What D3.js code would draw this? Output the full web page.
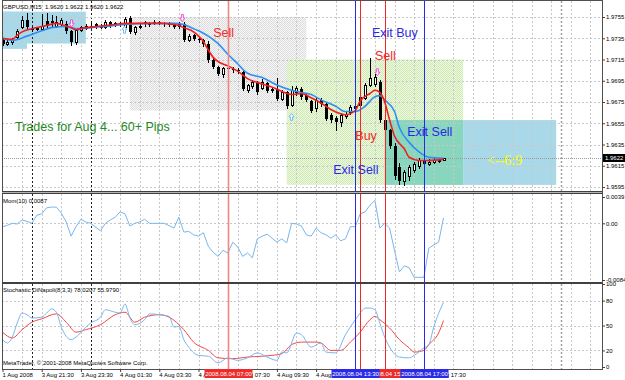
<!DOCTYPE html>
<html>
<head>
<meta charset="utf-8">
<script src="https://cdnjs.cloudflare.com/ajax/libs/d3/7.8.5/d3.min.js"></script>
<style>
body { margin: 0; background: #fff; }
text { font-family: "Liberation Sans", Arial, sans-serif; }
</style>
</head>
<body>
<script>
// ---- data (GBPUSD M15, 1 Aug 22:30 .. 4 Aug 18:00) ----
var open = [
  1.9733,1.9730,1.9731,1.9736,1.9746,1.9752,1.9745,1.9744,1.9744,1.9751,
  1.9751,1.9747,1.9748,1.9748,1.9742,1.9731,1.9743,1.9745,1.9746,1.9748,
  1.9746,1.9746,1.9750,1.9748,1.9749,1.9746,1.9754,1.9741,1.9746,1.9750,
  1.9748,1.9749,1.9750,1.9749,1.9748,1.9748,1.9748,1.9748,1.9733,1.9738,
  1.9734,1.9733,1.9730,1.9715,1.9708,1.9701,1.9707,1.9706,1.9705,1.9703,
  1.9686,1.9690,1.9694,1.9688,1.9693,1.9686,1.9687,1.9678,1.9684,1.9672,
  1.9684,1.9687,1.9682,1.9676,1.9669,1.9677,1.9673,1.9663,1.9660,1.9656,
  1.9662,1.9666,1.9669,1.9672,1.9679,1.9691,1.9692,1.9694,1.9658,1.9649,
  1.9634,1.9614,1.9601,1.9605,1.9611,1.9615,1.9620,1.9617,1.9619,1.9620,
  1.9620];
var high = [
  1.9735,1.9733,1.9735,1.9744,1.9756,1.9759,1.9746,1.9746,1.9758,1.9759,
  1.9757,1.9756,1.9754,1.9751,1.9743,1.9744,1.9747,1.9748,1.9749,1.9749,
  1.9748,1.9752,1.9751,1.9750,1.9750,1.9755,1.9756,1.9747,1.9748,1.9751,
  1.9750,1.9752,1.9751,1.9750,1.9750,1.9749,1.9750,1.9750,1.9739,1.9739,
  1.9736,1.9734,1.9732,1.9716,1.9709,1.9708,1.9709,1.9708,1.9707,1.9704,
  1.9692,1.9696,1.9695,1.9697,1.9694,1.9689,1.9698,1.9686,1.9685,1.9690,
  1.9690,1.9689,1.9683,1.9677,1.9679,1.9679,1.9674,1.9665,1.9662,1.9665,
  1.9666,1.9672,1.9673,1.9682,1.9693,1.9716,1.9701,1.9696,1.9661,1.9650,
  1.9636,1.9618,1.9611,1.9616,1.9619,1.9622,1.9622,1.9621,1.9622,1.9622,
  1.9622];
var low = [
  1.9729,1.9729,1.9730,1.9735,1.9745,1.9745,1.9742,1.9743,1.9743,1.9746,
  1.9747,1.9746,1.9747,1.9740,1.9729,1.9730,1.9742,1.9744,1.9745,1.9745,
  1.9745,1.9745,1.9746,1.9747,1.9747,1.9745,1.9740,1.9739,1.9745,1.9747,
  1.9747,1.9748,1.9748,1.9747,1.9747,1.9745,1.9745,1.9732,1.9732,1.9733,
  1.9731,1.9728,1.9713,1.9707,1.9700,1.9699,1.9704,1.9703,1.9702,1.9686,
  1.9684,1.9688,1.9683,1.9687,1.9684,1.9684,1.9677,1.9677,1.9669,1.9671,
  1.9682,1.9678,1.9676,1.9666,1.9667,1.9671,1.9658,1.9656,1.9649,1.9652,
  1.9660,1.9664,1.9667,1.9670,1.9678,1.9690,1.9690,1.9656,1.9648,1.9632,
  1.9603,1.9598,1.9597,1.9602,1.9609,1.9613,1.9615,1.9616,1.9618,1.9619,
  1.9620];
var close = [
  1.9730,1.9731,1.9733,1.9742,1.9752,1.9746,1.9743,1.9745,1.9747,1.9747,
  1.9749,1.9750,1.9752,1.9742,1.9731,1.9743,1.9746,1.9747,1.9747,1.9746,
  1.9747,1.9750,1.9747,1.9749,1.9748,1.9753,1.9741,1.9746,1.9747,1.9748,
  1.9749,1.9750,1.9749,1.9748,1.9749,1.9746,1.9746,1.9733,1.9737,1.9734,
  1.9733,1.9730,1.9715,1.9708,1.9701,1.9707,1.9706,1.9705,1.9704,1.9687,
  1.9691,1.9694,1.9684,1.9694,1.9685,1.9687,1.9678,1.9684,1.9671,1.9686,
  1.9688,1.9680,1.9677,1.9667,1.9677,1.9673,1.9659,1.9658,1.9656,1.9663,
  1.9664,1.9670,1.9671,1.9680,1.9691,1.9698,1.9699,1.9658,1.9649,1.9634,
  1.9605,1.9601,1.9609,1.9614,1.9617,1.9620,1.9617,1.9619,1.9620,1.9620,
  1.9622];

// moving averages [bar, price]
var maFast = [[0,1.9735],[2,1.9734],[3,1.9738],[4,1.9741],[6,1.9744],[8,1.9746],[9,1.9747],
  [11,1.9749],[12,1.9748],[14,1.9745],[15,1.9743],[17,1.9745],[19,1.9746],[21,1.9747],
  [23,1.9748],[25,1.9749],[28,1.9749],[32,1.9749],[35,1.9748],[36,1.9747],[37,1.9745],
  [39,1.9741],[40,1.9737],[41,1.9732],[42,1.9724],[43,1.9717],[44,1.9713],[46,1.9709],
  [48,1.9704],[50,1.9697],[53,1.9692],[55,1.9689],[57,1.9685],[59,1.9682],[61,1.9683],
  [63,1.9679],[65,1.9674],[67,1.9668],[69,1.9664],[70,1.9663],[72,1.9667],[73,1.9676],
  [75,1.9683],[76,1.9686],[77,1.9684],[78,1.9675],[79,1.9658],[80,1.9643],[82,1.9631],
  [83,1.9623],[85,1.9620],[87,1.9620],[90,1.9621]];
var maSlow = [[0,1.9735],[2,1.9733],[5,1.9737],[8,1.9742],[10,1.9745],[13,1.9746],[15,1.9744],
  [18,1.9745],[21,1.9746],[25,1.9748],[30,1.9749],[35,1.9749],[37,1.9748],[38,1.9746],
  [40,1.9742],[42,1.9737],[44,1.9730],[46,1.9720],[48,1.9711],[50,1.9702],[53,1.9698],
  [56,1.9691],[59,1.9686],[61,1.9684],[63,1.9682],[65,1.9677],[68,1.9671],[70,1.9666],
  [72,1.9666],[74,1.9671],[76,1.9680],[77,1.9681],[78,1.9677],[80,1.9666],[81,1.9651],
  [83,1.9637],[85,1.9628],[87,1.9623],[90,1.9622]];

// Mom(10) [bar, value]
var momentum = [[0,-0.0005],[1,-0.0003],[2,0.0000],[3,-0.0001],[4,0.0005],[5,0.0003],[6,0.0000],
  [7,0.0012],[8,0.0014],[9,0.0023],[10,0.0024],[11,0.0024],[12,0.0015],[13,0.0002],[14,-0.0019],
  [15,-0.0005],[16,0.0006],[17,0.0002],[18,0.0000],[20,-0.0011],[21,0.0000],[22,0.0005],
  [23,0.0009],[24,0.0017],[25,0.0014],[26,-0.0004],[27,0.0000],[28,0.0002],[29,0.0006],
  [30,0.0000],[32,0.0000],[33,0.0000],[35,-0.0007],[36,0.0009],[37,-0.0013],[38,-0.0012],
  [39,-0.0017],[40,-0.0019],[41,-0.0014],[42,-0.0034],[43,-0.0043],[44,-0.0049],[45,-0.0040],
  [46,-0.0044],[47,-0.0028],[48,-0.0035],[49,-0.0049],[50,-0.0044],[51,-0.0051],[52,-0.0023],
  [53,-0.0019],[54,-0.0016],[56,-0.0028],[57,-0.0023],[58,-0.0029],[59,0.0000],[60,-0.0001],
  [61,-0.0004],[62,-0.0017],[63,-0.0019],[64,-0.0007],[65,-0.0014],[66,-0.0017],[67,-0.0022],
  [68,-0.0017],[69,-0.0026],[70,-0.0023],[71,-0.0005],[72,-0.0005],[73,0.0014],[74,0.0017],
  [75,0.0027],[76,0.0034],[77,-0.0007],[78,0.0000],[79,-0.0007],[80,-0.0040],[81,-0.0072],
  [82,-0.0063],[83,-0.0066],[84,-0.0080],[85,-0.0080],[86,-0.0080],[87,-0.0037],[88,-0.0032],
  [89,-0.0028],[90,0.0008]];

// Stochastic DiNapoli(8,3,3) [bar, value]
var stochMain = [[0,33],[1,29],[2,36],[3,53],[4,65],[5,63],[6,59],[8,60],[9,65],[10,70],[11,66],
  [12,48],[14,33],[15,36],[17,48],[18,53],[20,60],[21,69],[23,66],[24,65],[25,76],[26,59],
  [27,51],[29,57],[30,64],[32,63],[34,61],[35,48],[36,49],[37,33],[38,24],[40,14],[42,13],
  [44,5],[46,11],[48,8],[50,11],[52,17],[54,12],[56,8],[57,18],[58,17],[60,41],[61,39],
  [63,24],[65,29],[66,18],[68,17],[70,39],[72,57],[73,65],[74,71],[75,71],[76,69],[77,53],
  [78,36],[79,24],[81,12],[83,11],[84,14],[86,23],[87,27],[88,48],[90,78]];
var stochSignal = [[0,42],[2,35],[4,45],[6,54],[8,58],[11,64],[13,54],[15,42],[17,45],[20,51],
  [23,63],[25,66],[27,54],[29,60],[32,63],[34,60],[37,45],[39,30],[42,20],[44,11],[47,10],
  [50,12],[53,13],[55,14],[57,16],[59,27],[61,30],[64,30],[65,29],[67,20],[69,20],[71,30],
  [73,42],[75,57],[76,61],[77,57],[79,47],[81,33],[83,23],[84,18],[86,20],[87,27],[89,41],[90,56]];

// axes
var priceTicks = [1.9755,1.9735,1.9715,1.9695,1.9675,1.9655,1.9635,1.9615,1.9595];
var momTicks = [0.0039, 0, -0.0084];
var momTickLabels = ["0.0039", "0.00", "-0.0084"];
var stochTicks = [100, 80, 50, 20, 0];
var timeTickBars = [0, 8, 16, 24, 32, 40, 48, 56, 64, 72, 80, 88];
var timeTickLabels = ["1 Aug 2008","3 Aug 21:30","3 Aug 23:30","4 Aug 01:30","4 Aug 03:30","4 Aug 05:30",
  "4 Aug 07:30","4 Aug 09:30","4 Aug 11:30","4 Aug 13:30","4 Aug 15:30","4 Aug 17:30"];
var daySeparators = [6, 18, 114];

// chart objects
var vlineBars = [46, 73, 78, 72, 86];
var vlineLabels = ["2008.08.04 07:00","2008.08.04 13:45","2008.08.04 15:00","2008.08.04 13:30","2008.08.04 17:00"];
var vlineKinds = ["red","red","red","blue","blue"];

var boxFrom  = [0, 0, 26, 58, 78, 94];
var boxTo    = [17, 5, 62, 94, 94, 113];
var boxTop   = [1.9760, 1.9760, 1.9755, 1.9715, 1.9658, 1.9658];
var boxBot   = [1.9730, 1.9725, 1.9667, 1.9597, 1.9597, 1.9597];
var boxKinds = ["blue","blue","gray","green","teal","blue"];

var noteTexts  = ["Trades for Aug 4... 60+ Pips","Sell","Exit Buy","Sell","Buy","Exit Sell","Exit Sell","<--6:9"];
var noteBars   = [2.55, 43, 75.4, 76, 72, 67.5, 82.6, 98.9];
var notePrices = [1.9648, 1.9736, 1.9736, 1.9715, 1.9639, 1.9607, 1.9643, 1.9616];
var noteKinds  = ["green","red","blue","red","red","blue","blue","yellow"];

var sellArrowBars = [14.1, 36.7, 76.5];
var sellArrowPrices = [1.9749, 1.9754, 1.9703];
var buyArrowBars = [24.9, 59];
var buyArrowPrices = [1.9743, 1.9661];

// ---- layout ----
var svg_width = 625, svg_height = 380;
var left = 2, right = 602;
var panes = {
  main:  {top: 1,   bottom: 191},
  mom:   {top: 194, bottom: 282},
  stoch: {top: 284, bottom: 369}
};
var colors = {
  red: "#f02828", blue: "#2828e6", green: "#1f8a1f", yellow: "#ffff00",
  boxBlue: "#a9d8e8", boxTeal: "#88d6bd"
};

var svg = d3.select('body').append('svg')
            .attr('width', svg_width)
            .attr('height', svg_height);

var x  = d3.scaleLinear().domain([0, 90]).range([2.5, 443.5]);
var yP = d3.scaleLinear().domain([1.9595, 1.9755]).range([187, 17]);
var yM = d3.scaleLinear().domain([-0.0084, 0.0039]).range([280, 197]);
var yS = d3.scaleLinear().domain([0, 100]).range([367, 284]);

var defs = svg.append("defs");
Object.keys(panes).forEach(function(k) {
  defs.append("clipPath").attr("id", "clip-" + k)
    .append("rect").attr("x", left).attr("y", panes[k].top)
    .attr("width", right - left).attr("height", panes[k].bottom - panes[k].top);
});
//stipple patterns like the dithered MT4 rectangles
function stipple(id, a, b) {
  var p = defs.append("pattern").attr("id", id).attr("width", 2).attr("height", 2)
              .attr("patternUnits", "userSpaceOnUse");
  p.append("rect").attr("width", 2).attr("height", 2).attr("fill", a);
  p.append("rect").attr("width", 1).attr("height", 1).attr("fill", b);
  p.append("rect").attr("x", 1).attr("y", 1).attr("width", 1).attr("height", 1).attr("fill", b);
}
stipple("st-gray", "#f7f7f7", "#dcdcdc");
stipple("st-green", "#eef8e2", "#cdebb3");
var boxFill = {blue: colors.boxBlue, teal: colors.boxTeal, gray: "url(#st-gray)", green: "url(#st-green)"};

svg.append("rect").attr("width", svg_width).attr("height", svg_height).attr("fill", "#fff");

var gMain  = svg.append("g").attr("clip-path", "url(#clip-main)");
var gMom   = svg.append("g").attr("clip-path", "url(#clip-mom)");
var gStoch = svg.append("g").attr("clip-path", "url(#clip-stoch)");

// rectangles (background objects)
gMain.selectAll("rect.box").data(d3.range(boxFrom.length)).enter().append("rect")
  .attr("x", function(i) { return i < 2 ? left : x(boxFrom[i]); })
  .attr("y", function(i) { return yP(boxTop[i]); })
  .attr("width", function(i) { return x(boxTo[i]) - (i < 2 ? left : x(boxFrom[i])); })
  .attr("height", function(i) { return yP(boxBot[i]) - yP(boxTop[i]); })
  .attr("fill", function(i) { return boxFill[boxKinds[i]]; });

// grid
var gridBars = d3.range(4, 123, 4);
[[gMain, panes.main], [gMom, panes.mom], [gStoch, panes.stoch]].forEach(function(p) {
  p[0].selectAll("line.vg").data(gridBars).enter().append("line")
    .attr("x1", function(d) { return Math.round(x(d)) + 0.5; })
    .attr("x2", function(d) { return Math.round(x(d)) + 0.5; })
    .attr("y1", p[1].top).attr("y2", p[1].bottom)
    .attr("stroke", "#c8c8c8").attr("stroke-dasharray", "2,2");
  p[0].selectAll("line.sep").data(daySeparators).enter().append("line")
    .attr("x1", function(d) { return Math.round(x(d)) + 0.5; })
    .attr("x2", function(d) { return Math.round(x(d)) + 0.5; })
    .attr("y1", p[1].top).attr("y2", p[1].bottom)
    .attr("stroke", function(d, i) { return i < 2 ? "#202020" : "#a0a0a0"; })
    .attr("stroke-width", function(d, i) { return i < 2 ? 1 : 1.5; })
    .attr("stroke-dasharray", "2,2");
});
function hGrid(g, values, scale) {
  g.selectAll("line.hg").data(values).enter().append("line")
    .attr("x1", left).attr("x2", right)
    .attr("y1", function(d) { return Math.round(scale(d)) + 0.5; })
    .attr("y2", function(d) { return Math.round(scale(d)) + 0.5; })
    .attr("stroke", "#c8c8c8").attr("stroke-dasharray", "2,2");
}
hGrid(gMain, priceTicks, yP);
hGrid(gMom, [0], yM);
hGrid(gStoch, [80, 50, 20], yS);

// bid line
var last = close.length - 1;
gMain.append("line").attr("x1", left).attr("x2", right)
  .attr("y1", Math.round(yP(close[last])) + 0.5).attr("y2", Math.round(yP(close[last])) + 0.5)
  .attr("stroke", "#9a9a9a").attr("stroke-dasharray", "1,1");

// candles
var bars = d3.range(close.length);
var candles = gMain.append("g").attr("shape-rendering", "crispEdges");
candles.selectAll("line").data(bars).enter().append("line")
  .attr("x1", function(i) { return Math.round(x(i)) + 0.5; })
  .attr("x2", function(i) { return Math.round(x(i)) + 0.5; })
  .attr("y1", function(i) { return Math.round(yP(high[i])); })
  .attr("y2", function(i) { return Math.round(yP(low[i])) + 1; })
  .attr("stroke", "#000");
candles.selectAll("rect").data(bars).enter().append("rect")
  .attr("x", function(i) { return close[i] >= open[i] ? Math.round(x(i)) - 0.5 : Math.round(x(i)) - 1; })
  .attr("y", function(i) {
    var t = Math.round(yP(Math.max(open[i], close[i])));
    return close[i] >= open[i] ? t + 0.5 : t;
  })
  .attr("width", function(i) { return close[i] >= open[i] ? 2 : 3; })
  .attr("height", function(i) {
    var h = Math.round(yP(Math.min(open[i], close[i]))) - Math.round(yP(Math.max(open[i], close[i])));
    return Math.max(h, 1);
  })
  .attr("fill", function(i) { return close[i] >= open[i] ? "#fff" : "#000"; })
  .attr("stroke", function(i) { return close[i] >= open[i] ? "#000" : "none"; });

// moving averages
var priceLine = d3.line().x(function(d) { return x(d[0]); }).y(function(d) { return yP(d[1]); })
                  .curve(d3.curveMonotoneX);
gMain.append("path").attr("d", priceLine(maSlow)).attr("fill", "none")
  .attr("stroke", "#2e8ff0").attr("stroke-width", 1.6);
gMain.append("path").attr("d", priceLine(maFast)).attr("fill", "none")
  .attr("stroke", "#f01e1e").attr("stroke-width", 1.6);

// arrows
var downArrow = "M-1,-3.5L1,-3.5L1,0L2.5,0L0,3.5L-2.5,0L-1,0Z";
var upArrow = "M-1,3.5L1,3.5L1,0L2.5,0L0,-3.5L-2.5,0L-1,0Z";
gMain.selectAll("path.sa").data(sellArrowBars).enter().append("path")
  .attr("d", downArrow)
  .attr("transform", function(d, i) { return "translate(" + x(d) + "," + yP(sellArrowPrices[i]) + ")"; })
  .attr("fill", "#fff").attr("stroke", "#f050d0").attr("stroke-width", 1);
gMain.selectAll("path.ba").data(buyArrowBars).enter().append("path")
  .attr("d", upArrow)
  .attr("transform", function(d, i) { return "translate(" + x(d) + "," + yP(buyArrowPrices[i]) + ")"; })
  .attr("fill", "#fff").attr("stroke", "#70bff0").attr("stroke-width", 1);

// momentum & stochastic
gMom.append("path")
  .attr("d", d3.line().x(function(d) { return x(d[0]); }).y(function(d) { return yM(d[1]); })(momentum))
  .attr("fill", "none").attr("stroke", "#78b6ee").attr("stroke-width", 1);
var stochLine = d3.line().x(function(d) { return x(d[0]); }).y(function(d) { return yS(d[1]); })
                  .curve(d3.curveMonotoneX);
gStoch.append("path").attr("d", stochLine(stochSignal))
  .attr("fill", "none").attr("stroke", "#f04848").attr("stroke-width", 1);
gStoch.append("path").attr("d", stochLine(stochMain))
  .attr("fill", "none").attr("stroke", "#78b6ee").attr("stroke-width", 1);

// vertical line objects
svg.append("g").selectAll("line").data(vlineBars).enter().append("line")
  .attr("x1", function(d) { return Math.round(x(d)) + 0.5; })
  .attr("x2", function(d) { return Math.round(x(d)) + 0.5; })
  .attr("y1", panes.main.top).attr("y2", panes.stoch.bottom)
  .attr("stroke", function(d, i) { return i == 0 ? "#f28484" : colors[vlineKinds[i]]; })
  .attr("stroke-width", function(d, i) { return i == 0 ? 1.6 : 1; });

// text notes
svg.append("g").selectAll("text").data(noteTexts).enter().append("text")
  .attr("x", function(d, i) { return x(noteBars[i]); })
  .attr("y", function(d, i) { return yP(notePrices[i]); })
  .attr("fill", function(d, i) { return colors[noteKinds[i]]; })
  .style("font-size", function(d, i) { return i == 7 ? "14px" : "12.5px"; })
  .style("font-family", function(d, i) { return i == 7 ? "'Liberation Serif', serif" : null; })
  .text(function(d) { return d; });

// pane frames
var frame = svg.append("g").attr("fill", "none").attr("shape-rendering", "crispEdges");
frame.append("rect").attr("x", left + 0.5).attr("y", 0.5)
  .attr("width", right - left).attr("height", panes.stoch.bottom)
  .attr("stroke", "#505050");
[[191, 194], [282, 284]].forEach(function(s) {
  frame.append("rect").attr("x", left).attr("y", s[0]).attr("width", right - left)
    .attr("height", s[1] - s[0]).attr("fill", "#b4b4b4");
  frame.append("line").attr("x1", left).attr("x2", right).attr("y1", s[0] + 0.5).attr("y2", s[0] + 0.5)
    .attr("stroke", "#404040");
  frame.append("line").attr("x1", left).attr("x2", right).attr("y1", s[1] - 0.5).attr("y2", s[1] - 0.5)
    .attr("stroke", "#404040");
});

// axes
function styleAxis(g) {
  g.select(".domain").remove();
  g.selectAll("text").style("font-size", "6px").attr("fill", "#000");
  g.selectAll(".tick line").attr("stroke", "#404040");
}
svg.append("g").attr("transform", "translate(" + right + ",0)")
  .call(d3.axisRight(yP).tickValues(priceTicks).tickSize(3).tickPadding(1).tickFormat(d3.format(".4f")))
  .call(styleAxis);
svg.append("g").attr("transform", "translate(" + right + ",0)")
  .call(d3.axisRight(yM).tickValues(momTicks).tickSize(3).tickPadding(1)
          .tickFormat(function(d, i) { return momTickLabels[i]; }))
  .call(styleAxis);
svg.append("g").attr("transform", "translate(" + right + ",0)")
  .call(d3.axisRight(yS).tickValues(stochTicks).tickSize(3).tickPadding(1))
  .call(styleAxis);
var tAxis = svg.append("g").attr("transform", "translate(0," + panes.stoch.bottom + ")")
  .call(d3.axisBottom(x).tickValues(timeTickBars).tickSize(3).tickPadding(1)
          .tickFormat(function(d, i) { return timeTickLabels[i]; }))
  .call(styleAxis);
tAxis.selectAll("text").attr("text-anchor", "start").attr("dx", "-0.5");

// time labels of the vertical lines (red first, blue on top)
var vl = svg.append("g");
vlineBars.forEach(function(b, i) {
  var cx = Math.round(x(b)) + 0.5;
  vl.append("rect").attr("x", cx - 24).attr("y", panes.stoch.bottom).attr("width", 48).attr("height", 9)
    .attr("fill", vlineKinds[i] == "red" ? "#ee2a2a" : "#2a2ae8");
  vl.append("text").attr("x", cx).attr("y", panes.stoch.bottom + 7).attr("text-anchor", "middle")
    .attr("fill", "#fff").style("font-size", "6px").text(vlineLabels[i]);
});

// current price marker
var cp = Math.round(yP(close[last]));
svg.append("rect").attr("x", right + 1).attr("y", cp - 4).attr("width", 22).attr("height", 8).attr("fill", "#000");
svg.append("text").attr("x", right + 3).attr("y", cp + 2).attr("fill", "#fff").style("font-size", "6px")
  .text(d3.format(".4f")(close[last]));

// titles
var f4 = d3.format(".4f");
svg.append("text").attr("x", 3).attr("y", 9).style("font-size", "6px").attr("xml:space", "preserve")
  .text("GBPUSD,M15  " + f4(open[last]) + " " + f4(high[last]) + " " + f4(low[last]) + " " + f4(close[last]));
svg.append("text").attr("x", 3).attr("y", panes.mom.top + 9).style("font-size", "6px").text("Mom(10) 0.0087");
svg.append("text").attr("x", 3).attr("y", panes.stoch.top + 8).style("font-size", "6px")
  .text("Stochastic DiNapoli(8,3,3) 78.0207 55.9790");
svg.append("text").attr("x", 3).attr("y", panes.stoch.bottom - 4).style("font-size", "6px")
  .text("MetaTrader, \u00a9 2001-2008 MetaQuotes Software Corp.");
</script>
</body>
</html>
